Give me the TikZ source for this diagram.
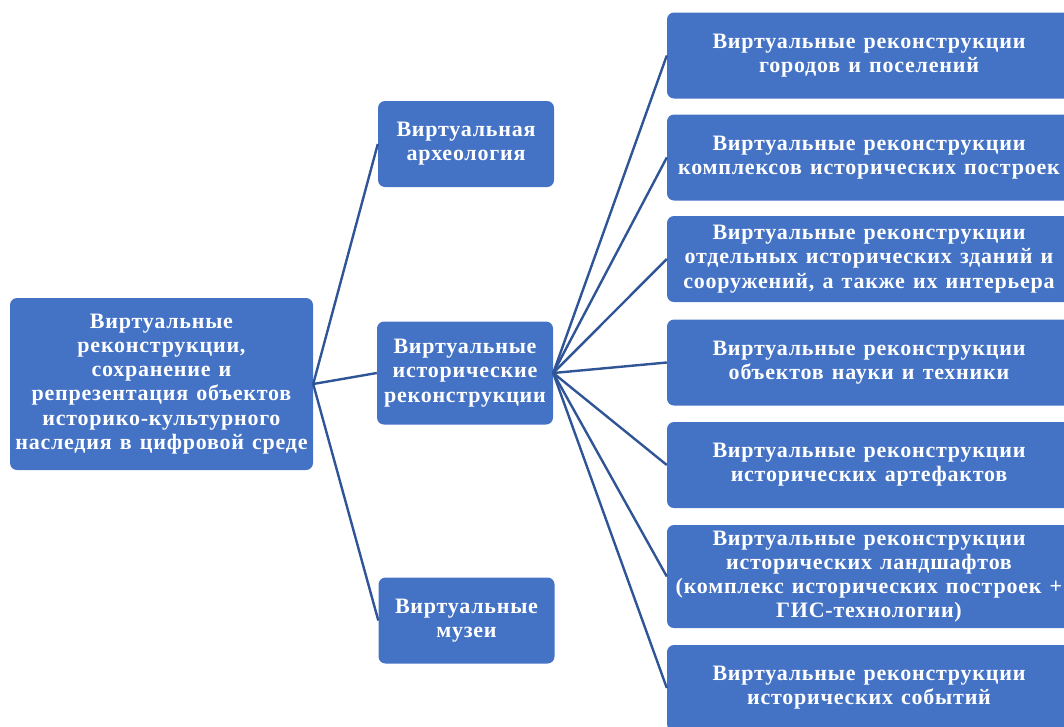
\documentclass[tikz,border=0pt]{standalone}
\usepackage{fontspec}
\setmainfont{Liberation Serif}
\newfontfamily\boxfont[LetterSpace=3.5,WordSpace=1.3]{Liberation Serif}
\definecolor{boxblue}{HTML}{4472C4}
\definecolor{lineblue}{HTML}{2F5597}
\begin{document}
\begin{tikzpicture}[x=1pt,y=-1pt,
  box/.style={fill=boxblue, draw=none, rounded corners=7pt, text=white,
    font=\boxfont\fontsize{22}{24.2}\selectfont\bfseries, align=center, inner sep=0pt},
  conn/.style={draw=lineblue, line width=2.4pt}]
\useasboundingbox (0,0) rectangle (1064,726);
\begin{scope}
\clip (0,0) rectangle (1064,726);
% root
\node[box, minimum width=303pt, minimum height=172pt] (root) at (161.5,384)
  {Виртуальные\\реконструкции,\\сохранение и\\репрезентация объектов\\историко-культурного\\наследия в цифровой среде};
% middle
\node[box, minimum width=176pt, minimum height=86pt] (arch) at (466,144)
  {Виртуальная\\археология};
\node[box, minimum width=176pt, minimum height=103pt] (hist) at (465,373)
  {Виртуальные\\исторические\\реконструкции};
\node[box, minimum width=176pt, minimum height=86pt] (mus) at (466.5,620.5)
  {Виртуальные\\музеи};
% right
\node[box, minimum width=404pt, minimum height=86pt] (r1) at (869,55.5)
  {Виртуальные реконструкции\\городов и поселений};
\node[box, minimum width=404pt, minimum height=86pt] (r2) at (869,157.5)
  {Виртуальные реконструкции\\комплексов исторических построек};
\node[box, minimum width=404pt, minimum height=86pt] (r3) at (869,259)
  {Виртуальные реконструкции\\отдельных исторических зданий и\\сооружений, а также их интерьера};
\node[box, minimum width=404pt, minimum height=86pt] (r4) at (869,362.5)
  {Виртуальные реконструкции\\объектов науки и техники};
\node[box, minimum width=404pt, minimum height=86pt] (r5) at (869,465)
  {Виртуальные реконструкции\\исторических артефактов};
\node[box, minimum width=404pt, minimum height=103pt] (r6) at (869,576.5)
  {Виртуальные реконструкции\\исторических ландшафтов\\(комплекс исторических построек +\\ГИС-технологии)};
\node[box, minimum width=404pt, minimum height=86pt] (r7) at (869,688)
  {Виртуальные реконструкции\\исторических событий};
% connectors
\draw[conn] (root.east) -- (arch.west);
\draw[conn] (root.east) -- (hist.west);
\draw[conn] (root.east) -- (mus.west);
\foreach \r in {r1,r2,r3,r4,r5,r6,r7}
  \draw[conn] (hist.east) -- (\r.west);
\end{scope}
\end{tikzpicture}
\end{document}
